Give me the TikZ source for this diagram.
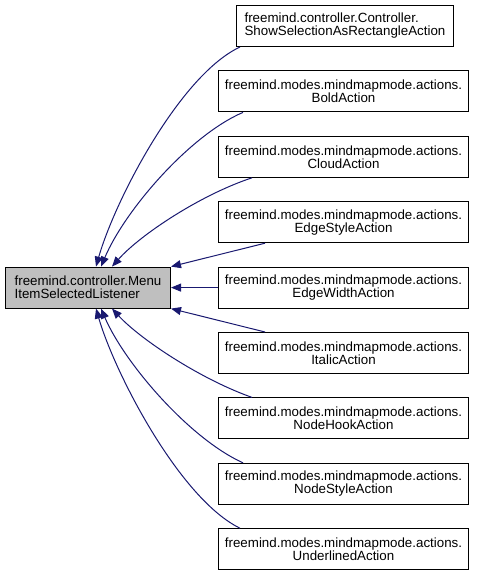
\documentclass[tikz,border=0pt]{standalone}
\usepackage{fontspec}
\setmainfont{Liberation Sans}
\usetikzlibrary{arrows.meta,calc}
\definecolor{edgeblue}{RGB}{25,25,112}
\definecolor{maingray}{RGB}{191,191,191}
\begin{document}
\begin{tikzpicture}[x=0.75pt,y=-0.75pt,
  box/.style={draw=black, line width=0.75pt, fill=white, inner sep=0pt, anchor=north west,
    minimum width=187.5pt, minimum height=30.75pt, align=center, font=\fontsize{10}{9.75}\selectfont},
  edge/.style={draw=edgeblue, line width=0.75pt, -{Triangle[length=7.5pt,width=6pt]}}]
\useasboundingbox (0,0) rectangle (477,573);
\node[box, fill=maingray, minimum width=123.75pt, align=left] (m) at (5,266.6)
  {freemind.controller.Menu\\ItemSelectedListener};
\node[box, minimum width=162.75pt, align=left] (b0) at (236,5)
  {freemind.controller.Controller.\\ShowSelectionAsRectangleAction};
\node[box] (b1) at (218,70.4) {freemind.modes.mindmapmode.actions.\\BoldAction};
\node[box] (b2) at (218,135.8) {freemind.modes.mindmapmode.actions.\\CloudAction};
\node[box] (b3) at (218,201.2) {freemind.modes.mindmapmode.actions.\\EdgeStyleAction};
\node[box] (b4) at (218,266.6) {freemind.modes.mindmapmode.actions.\\EdgeWidthAction};
\node[box] (b5) at (218,332) {freemind.modes.mindmapmode.actions.\\ItalicAction};
\node[box] (b6) at (218,397.4) {freemind.modes.mindmapmode.actions.\\NodeHookAction};
\node[box] (b7) at (218,462.8) {freemind.modes.mindmapmode.actions.\\NodeStyleAction};
\node[box] (b8) at (218,528.2) {freemind.modes.mindmapmode.actions.\\UnderlinedAction};

\draw[edge] ($(b0.south west)+(4,0)$) .. controls (180,75) and (115,200) .. ($(m.north west)+(91,0)$);
\draw[edge] ($(b1.south west)+(25,0)$) .. controls (190,135) and (125,210) .. ($(m.north west)+(96,0)$);
\draw[edge] ($(b2.south west)+(34,0)$) .. controls (200,195) and (140,235) .. ($(m.north west)+(107,0)$);
\draw[edge] ($(b3.south west)+(47,0)$) -- (m.north east);
\draw[edge] (b4.west) -- (m.east);
\draw[edge] ($(b5.north west)+(47,0)$) -- (m.south east);
\draw[edge] ($(b6.north west)+(34,0)$) .. controls (200,379) and (140,339) .. ($(m.south west)+(107,0)$);
\draw[edge] ($(b7.north west)+(25,0)$) .. controls (190,439) and (125,364) .. ($(m.south west)+(96,0)$);
\draw[edge] ($(b8.north west)+(22,0)$) .. controls (180,499) and (115,374) .. ($(m.south west)+(91,0)$);
\end{tikzpicture}
\end{document}
